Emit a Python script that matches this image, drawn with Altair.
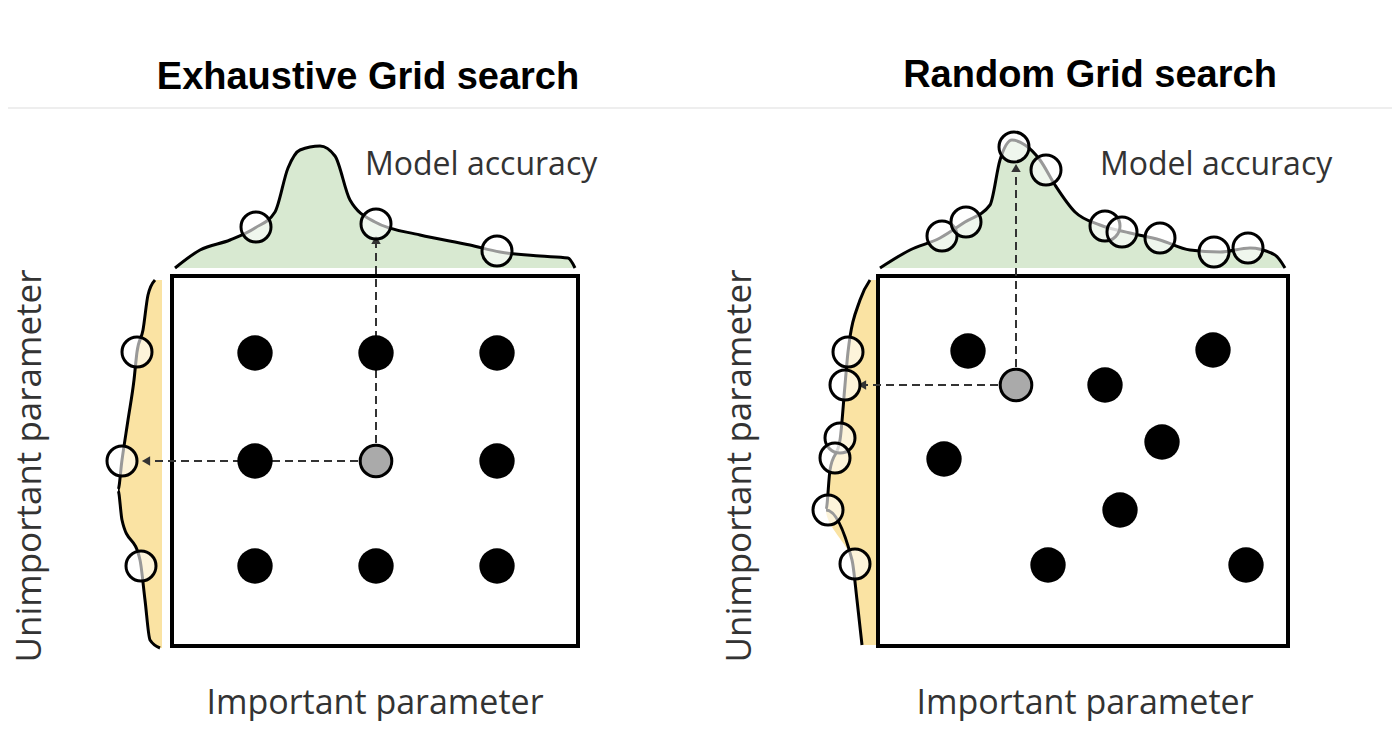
import pandas as pd
import altair as alt

# picture coordinates (x to the right, y downward)
titles = ["Exhaustive Grid search", "Random Grid search"]
title_x = [368, 1090]
title_y = [78, 76]

boxes_x = [172, 878]
boxes_x2 = [578, 1288]
box_top, box_bottom = 276, 646

# model accuracy curves (top)
acc_left_x = [175, 200, 230, 255, 275, 288, 300, 320, 335, 350, 375, 420, 470, 500, 540, 568, 575]
acc_left_y = [268, 250, 240, 228, 212, 168, 150, 146, 156, 200, 222, 235, 245, 252, 256, 258, 268]
acc_right_x = [880, 910, 940, 965, 990, 1000, 1012, 1025, 1040, 1055, 1075, 1100, 1130, 1160, 1190, 1220, 1250, 1275, 1285]
acc_right_y = [268, 250, 238, 222, 205, 160, 140, 145, 160, 185, 212, 225, 233, 240, 250, 252, 248, 255, 268]

# unimportant parameter curves (left side)
un_left_y = [280, 295, 330, 352, 380, 420, 460, 490, 520, 560, 600, 640, 648]
un_left_x = [155, 148, 143, 137, 134, 128, 122, 118, 122, 140, 145, 150, 160]
un_right_y = [280, 300, 352, 385, 440, 470, 510, 560, 600, 645]
un_right_x = [870, 860, 848, 845, 840, 830, 826, 852, 857, 862]
strip_left_x2, strip_right_x2 = 162, 876

# open circles on curves
open_x = [256, 376, 497, 137, 122, 141,
          942, 966, 1014, 1046, 1105, 1122, 1160, 1214, 1248,
          848, 845, 840, 835, 828, 855]
open_y = [227, 224, 251, 352, 461, 566,
          236, 222, 147, 170, 226, 232, 238, 252, 248,
          352, 385, 438, 458, 510, 564]

# sampled points
dot_x = [255, 376, 497, 255, 497, 255, 376, 497,
         968, 1213, 1105, 1162, 944, 1120, 1048, 1246]
dot_y = [353, 353, 353, 461, 461, 566, 566, 566,
         351, 350, 385, 442, 459, 510, 565, 565]
grey_x = [376, 1016]
grey_y = [461, 385]

# dashed arrows
arr_x = [376, 358, 1016, 998]
arr_y = [443, 461, 367, 385]
arr_x2 = [376, 150, 1016, 866]
arr_y2 = [242, 461, 172, 385]
head_x = [376, 146, 1016, 862]
head_y = [240, 461, 168, 385]
head_shape = ["triangle-up", "triangle-left", "triangle-up", "triangle-left"]

acc_labels = ["Model accuracy", "Model accuracy"]
acc_x = [365, 1100]
acc_y = [165, 165]
imp_x = [375, 1085]
imp_y = [704, 704]
side_x = [30, 740]
side_y = [466, 466]

X = alt.Scale(domain=[8, 1392], zero=False, nice=False)
Y = alt.Scale(domain=[721, 8], zero=False, nice=False)


def xe(f="x"):
    return alt.X(f"{f}:Q", scale=X, axis=None)


def ye(f="y"):
    return alt.Y(f"{f}:Q", scale=Y, axis=None)


layers = []

layers.append(
    alt.Chart(pd.DataFrame({"x": [8], "x2": [1392], "y": [108]}))
    .mark_rule(color="#dddddd", strokeWidth=1)
    .encode(x=xe(), x2="x2:Q", y=ye())
)

for xs, ys in [(acc_left_x, acc_left_y), (acc_right_x, acc_right_y)]:
    df = pd.DataFrame({"x": xs, "y": ys, "y2": [268] * len(xs)})
    layers.append(
        alt.Chart(df)
        .mark_area(color="#c8e0bd", line={"color": "black", "strokeWidth": 3}, interpolate="monotone")
        .encode(x=xe(), y=ye(), y2="y2:Q")
    )

for xs, ys, x2 in [(un_left_x, un_left_y, strip_left_x2), (un_right_x, un_right_y, strip_right_x2)]:
    df = pd.DataFrame({"x": xs, "y": ys, "x2": [x2] * len(xs)})
    layers.append(
        alt.Chart(df)
        .mark_area(color="#fae3a3", orient="horizontal", interpolate="monotone")
        .encode(y=ye(), x=xe(), x2="x2:Q")
    )
    layers.append(
        alt.Chart(df)
        .mark_line(color="black", strokeWidth=3, interpolate="monotone")
        .encode(x=xe(), y=ye(), order="y:Q")
    )

layers.append(
    alt.Chart(pd.DataFrame({"x": boxes_x, "x2": boxes_x2, "y": [box_top] * 2, "y2": [box_bottom] * 2}))
    .mark_rect(fill="white", stroke="black", strokeWidth=4)
    .encode(x=xe(), x2="x2:Q", y=ye(), y2="y2:Q")
)

layers.append(
    alt.Chart(pd.DataFrame({"x": arr_x, "y": arr_y, "x2": arr_x2, "y2": arr_y2}))
    .mark_rule(color="#333333", strokeWidth=2, strokeDash=[8, 5])
    .encode(x=xe(), y=ye(), x2="x2:Q", y2="y2:Q")
)
layers.append(
    alt.Chart(pd.DataFrame({"x": head_x, "y": head_y, "s": head_shape}))
    .mark_point(filled=True, color="#333333", size=90, opacity=1)
    .encode(x=xe(), y=ye(), shape=alt.Shape("s:N", scale=None))
)

layers.append(
    alt.Chart(pd.DataFrame({"x": open_x, "y": open_y}))
    .mark_point(shape="circle", size=900, stroke="black", strokeWidth=3, fill="white", filled=False, opacity=1, fillOpacity=0.6)
    .encode(x=xe(), y=ye())
)
layers.append(
    alt.Chart(pd.DataFrame({"x": dot_x, "y": dot_y}))
    .mark_point(shape="circle", size=1250, filled=True, color="black", opacity=1)
    .encode(x=xe(), y=ye())
)
layers.append(
    alt.Chart(pd.DataFrame({"x": grey_x, "y": grey_y}))
    .mark_point(shape="circle", size=1000, fill="#aaaaaa", stroke="black", strokeWidth=3, filled=False, opacity=1, fillOpacity=1)
    .encode(x=xe(), y=ye())
)

layers.append(
    alt.Chart(pd.DataFrame({"x": title_x, "y": title_y, "t": titles}))
    .mark_text(font="Liberation Sans", fontWeight="bold", fontSize=38, color="black", baseline="middle")
    .encode(x=xe(), y=ye(), text="t:N")
)
layers.append(
    alt.Chart(pd.DataFrame({"x": acc_x, "y": acc_y, "t": acc_labels}))
    .mark_text(font="Open Sans", fontSize=32, color="#333333", align="left", baseline="middle")
    .encode(x=xe(), y=ye(), text="t:N")
)
layers.append(
    alt.Chart(pd.DataFrame({"x": imp_x, "y": imp_y, "t": ["Important parameter"] * 2}))
    .mark_text(font="Open Sans", fontSize=34, color="#333333", align="center", baseline="middle")
    .encode(x=xe(), y=ye(), text="t:N")
)
layers.append(
    alt.Chart(pd.DataFrame({"x": side_x, "y": side_y, "t": ["Unimportant parameter"] * 2}))
    .mark_text(font="Open Sans", fontSize=35, color="#333333", angle=270, baseline="middle")
    .encode(x=xe(), y=ye(), text="t:N")
)

chart = (
    alt.layer(*layers)
    .properties(width=1384, height=713, padding=0, autosize=alt.AutoSizeParams(type="none"))
    .configure_view(stroke=None)
)

chart.save("out.html", embed_options={"renderer": "svg", "actions": False})
